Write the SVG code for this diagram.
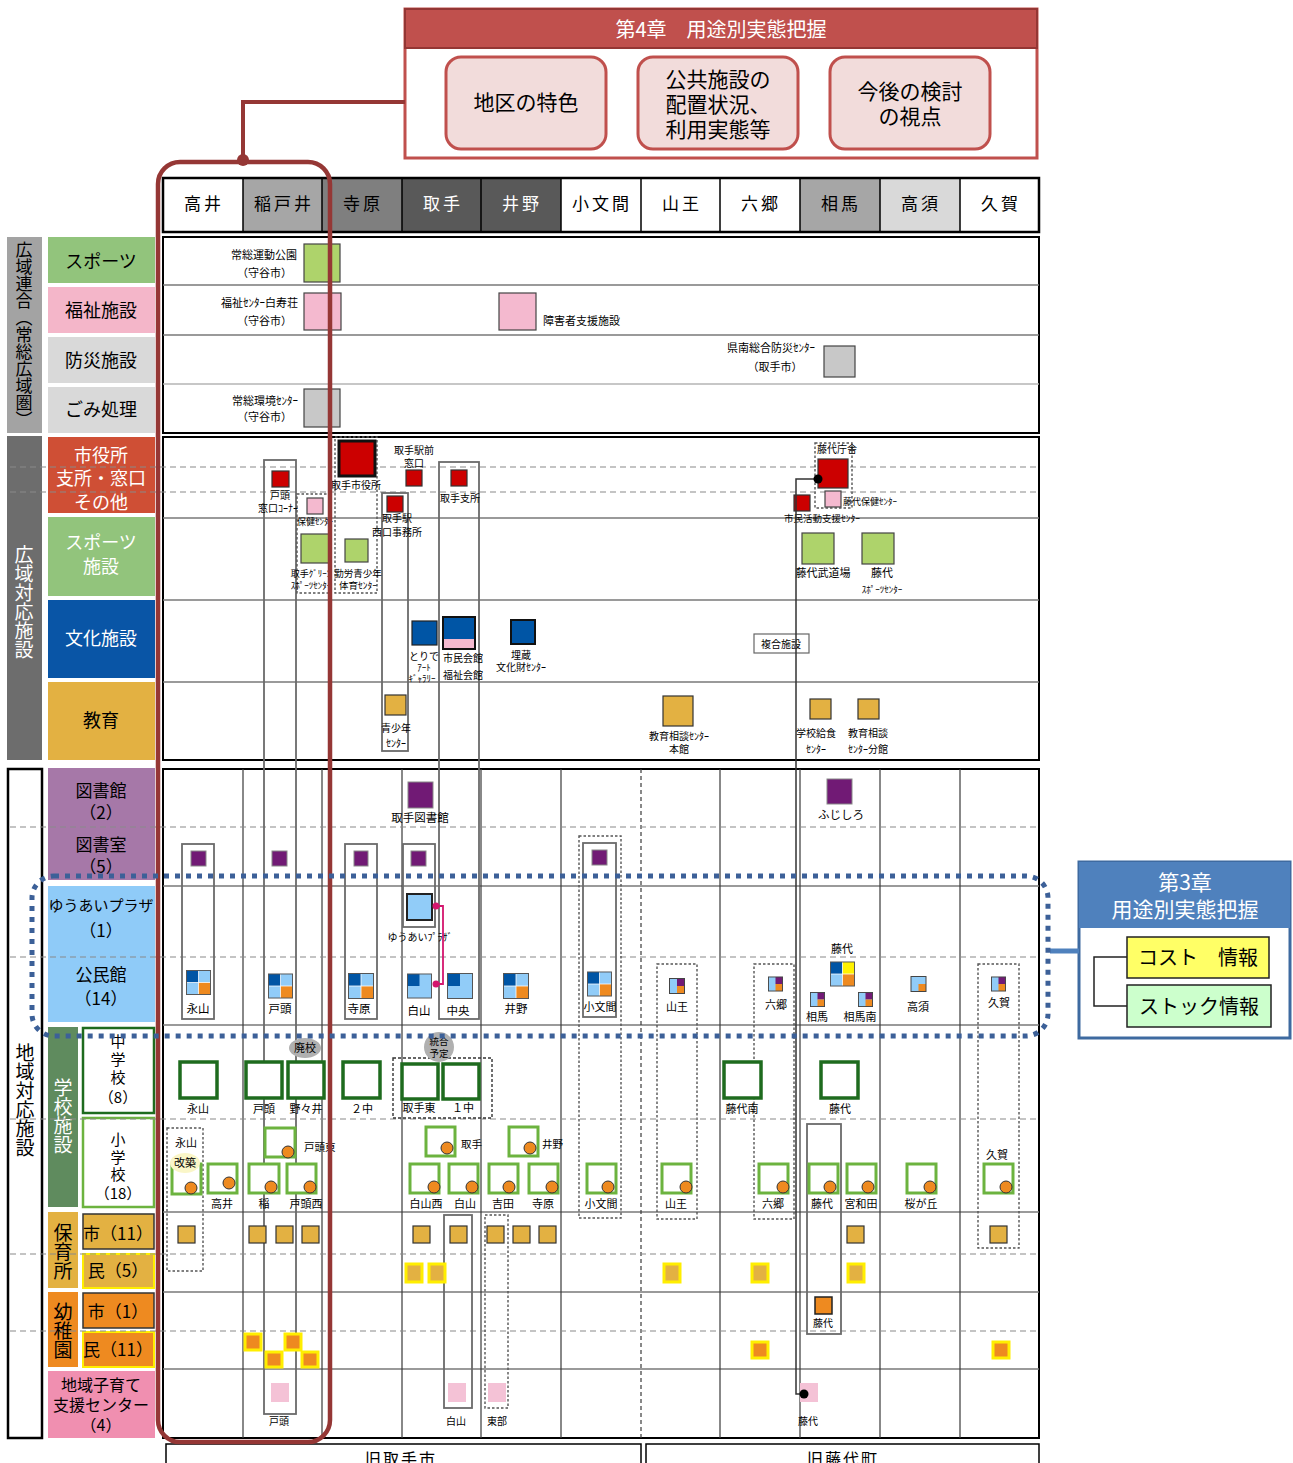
<svg xmlns="http://www.w3.org/2000/svg" width="1293" height="1463" viewBox="0 0 1293 1463">
<style>
text{font-family:"Noto Sans CJK JP","Noto Sans",sans-serif;fill:#000}
.t{font-size:10px;text-anchor:middle}
.tl{font-size:10.5px}
.tr{font-size:11px;text-anchor:end}
.p{font-size:11.5px;text-anchor:middle}
.ps{font-size:11px;text-anchor:middle}
.k{font-size:9px;text-anchor:middle}
.cat{font-size:18px;text-anchor:middle}
.w{fill:#fff}
.hd{font-size:17px;text-anchor:middle;letter-spacing:3px}
.vt{writing-mode:vertical-rl;text-anchor:middle}
.sec{fill:#fff;stroke:#000;stroke-width:2}
.row{stroke:#7a7a7a;stroke-width:1.5}
.dash{stroke:#8a8a8a;stroke-width:1.2;stroke-dasharray:6 4}
.col{stroke:#3a3a3a;stroke-width:1.2}
.cold{stroke:#3a3a3a;stroke-width:1.2;stroke-dasharray:4 3}
.frame{fill:none;stroke:#6a6a6a;stroke-width:1.8}
.dot{fill:none;stroke:#555;stroke-width:1.4;stroke-dasharray:2.5 2}
.red{fill:#cc0000;stroke:#333;stroke-width:1.2}
.grn{fill:#aed36b;stroke:#444;stroke-width:1.2}
.pnk{fill:#f4b9cf;stroke:#444;stroke-width:1.2}
.gry{fill:#c8c8c8;stroke:#444;stroke-width:1.2}
.blu{fill:#0055a5;stroke:#222;stroke-width:1.2}
.gld{fill:#e3b142;stroke:#333;stroke-width:1.2}
.pur{fill:#711a75;stroke:#888;stroke-width:1}
.lbl{fill:#91ccf8;stroke:#222;stroke-width:2}
.jhs{fill:#fff;stroke:#1e6b1e;stroke-width:3.5}
.es{fill:#fff;stroke:#6cb33f;stroke-width:3}
.od{fill:#ee8a20;stroke:#333;stroke-width:1}
.hoy{fill:#e3b142;stroke:#333;stroke-width:1.2}
.hom{fill:#e3b142;stroke:#ffee00;stroke-width:3}
.ykm{fill:#ee8a20;stroke:#ffee00;stroke-width:3}
.kos{fill:#f4c2d6}
</style>
<defs>
<symbol id="ic4" viewBox="0 0 26 26">
<rect x="0.5" y="0.5" width="25" height="25" fill="#91ccf8"/>
<rect x="0.5" y="0.5" width="12.5" height="12.5" fill="#0055a5"/>
<rect x="13" y="13" width="12.5" height="12.5" fill="#ee8a20"/>
<path d="M13 0.5V25.5M0.5 13H25.5" stroke="#fff" stroke-width="0.8"/>
<rect x="0.5" y="0.5" width="25" height="25" fill="none" stroke="#555" stroke-width="1"/>
</symbol>
<symbol id="icf" viewBox="0 0 26 26">
<rect x="0.5" y="0.5" width="25" height="25" fill="#91ccf8"/>
<rect x="0.5" y="0.5" width="12.5" height="12.5" fill="#0055a5"/>
<rect x="13" y="0.5" width="12.5" height="12.5" fill="#fff200"/>
<rect x="13" y="13" width="12.5" height="12.5" fill="#ee8a20"/>
<path d="M13 0.5V25.5M0.5 13H25.5" stroke="#fff" stroke-width="0.8"/>
<rect x="0.5" y="0.5" width="25" height="25" fill="none" stroke="#555" stroke-width="1"/>
</symbol>
<symbol id="ic2" viewBox="0 0 26 26">
<rect x="0.5" y="0.5" width="25" height="25" fill="#91ccf8"/>
<rect x="0.5" y="0.5" width="12.5" height="12.5" fill="#0055a5"/>
<rect x="0.5" y="0.5" width="25" height="25" fill="none" stroke="#555" stroke-width="1"/>
</symbol>
<symbol id="ic3" viewBox="0 0 16 16">
<rect x="0.5" y="0.5" width="15" height="15" fill="#91ccf8"/>
<rect x="8" y="0.5" width="7.5" height="7.5" fill="#711a75"/>
<rect x="8" y="8" width="7.5" height="7.5" fill="#ee8a20"/>
<rect x="0.5" y="0.5" width="15" height="15" fill="none" stroke="#444" stroke-width="1"/>
</symbol>
<symbol id="ich" viewBox="0 0 16 16">
<rect x="0.5" y="0.5" width="15" height="15" fill="#91ccf8"/>
<rect x="8" y="8" width="7.5" height="7.5" fill="#ee8a20"/>
<rect x="0.5" y="0.5" width="15" height="15" fill="none" stroke="#444" stroke-width="1"/>
</symbol>
</defs>

<rect width="1293" height="1463" fill="#fff"/>

<!-- chapter 4 panel -->
<g id="chapter4">
<rect x="405" y="9" width="632" height="149" fill="#fff" stroke="#c0504d" stroke-width="3"/>
<rect x="405" y="9" width="632" height="39" fill="#c0504d" stroke="#943634" stroke-width="2"/>
<text x="721" y="37" style="font-size:20px;text-anchor:middle" class="w">第4章　用途別実態把握</text>
</g>
<g id="n-district">
<rect x="446" y="57" width="160" height="92" rx="15" fill="#f2dcdb" stroke="#c0504d" stroke-width="3"/>
<text x="526" y="110" style="font-size:21px;text-anchor:middle">地区の特色</text>
</g>
<g id="n-layout">
<rect x="638" y="57" width="160" height="92" rx="15" fill="#f2dcdb" stroke="#c0504d" stroke-width="3"/>
<text x="718" y="87" style="font-size:21px;text-anchor:middle">公共施設の</text>
<text x="718" y="112" style="font-size:21px;text-anchor:middle">配置状況、</text>
<text x="718" y="137" style="font-size:21px;text-anchor:middle">利用実態等</text>
</g>
<g id="n-viewpoint">
<rect x="830" y="57" width="160" height="92" rx="15" fill="#f2dcdb" stroke="#c0504d" stroke-width="3"/>
<text x="910" y="99" style="font-size:21px;text-anchor:middle">今後の検討</text>
<text x="910" y="124" style="font-size:21px;text-anchor:middle">の視点</text>
</g>

<!-- district header row -->
<g id="header-row">
<rect x="163" y="178" width="80" height="54" fill="#fff"/>
<rect x="243" y="178" width="79" height="54" fill="#a6a6a6"/>
<rect x="322" y="178" width="80" height="54" fill="#7f7f7f"/>
<rect x="402" y="178" width="79" height="54" fill="#595959"/>
<rect x="481" y="178" width="80" height="54" fill="#595959"/>
<rect x="800" y="178" width="80" height="54" fill="#a6a6a6"/>
<rect x="880" y="178" width="80" height="54" fill="#d9d9d9"/>
<path d="M243 178V232M322 178V232M402 178V232M481 178V232M561 178V232M641 178V232M720 178V232M800 178V232M880 178V232M960 178V232" stroke="#000" stroke-width="1.5"/>
<rect x="163" y="178" width="876" height="54" fill="none" stroke="#000" stroke-width="2.5"/>
<text class="hd" x="204" y="210">高井</text>
<text class="hd" x="284" y="210">稲戸井</text>
<text class="hd" x="363" y="210">寺原</text>
<text class="hd w" x="443" y="210">取手</text>
<text class="hd w" x="522" y="210">井野</text>
<text class="hd" x="602" y="210">小文間</text>
<text class="hd" x="682" y="210">山王</text>
<text class="hd" x="761" y="210">六郷</text>
<text class="hd" x="841" y="210">相馬</text>
<text class="hd" x="921" y="210">高須</text>
<text class="hd" x="1001" y="210">久賀</text>
</g>

<!-- grid sections -->
<g id="grid">
<rect class="sec" x="163" y="237" width="876" height="196"/>
<path class="row" d="M163 285H1039M163 335H1039"/>
<path d="M163 384H1039" stroke="#b5b5b5" stroke-width="1.5"/>
<rect class="sec" x="163" y="437" width="876" height="323"/>
<path class="row" d="M163 518H1039M163 600H1039M163 682H1039"/>
<rect class="sec" x="163" y="769" width="876" height="669"/>
<path class="row" d="M163 886H1039M163 1025H1039M163 1212H1039M163 1292H1039M163 1369H1039"/>
<path class="col" d="M243 769V1438M322 769V1438M402 769V1438M481 769V1438M561 769V1438M720 769V1438M800 769V1438M880 769V1438M960 769V1438"/>
<path class="cold" d="M641 769V1438"/>
<rect x="166" y="1444" width="475" height="30" fill="#fff" stroke="#000" stroke-width="1.5"/>
<rect x="646" y="1444" width="393" height="30" fill="#fff" stroke="#000" stroke-width="1.5"/>
<text x="401" y="1465" style="font-size:16px;text-anchor:middle;letter-spacing:2px">旧取手市</text>
<text x="843" y="1465" style="font-size:16px;text-anchor:middle;letter-spacing:2px">旧藤代町</text>
</g>

<!-- category labels -->
<g id="categories">
<rect x="7" y="237" width="35" height="196" fill="#a3a3a3"/>
<text class="vt" x="24" y="335" style="font-size:17px">広域連合（常総広域圏）</text>
<rect x="7" y="436" width="35" height="324" fill="#6d6d6d"/>
<text class="vt w" x="24" y="602" style="font-size:19px">広域対応施設</text>
<rect x="8" y="769" width="34" height="669" fill="#fff" stroke="#000" stroke-width="2.5"/>
<text class="vt" x="25" y="1100" style="font-size:19px">地域対応施設</text>

<rect x="48" y="237" width="107" height="46" fill="#92c47c"/>
<text class="cat" x="101" y="268">スポーツ</text>
<rect x="48" y="287" width="107" height="46" fill="#f4b6c9"/>
<text class="cat" x="101" y="317">福祉施設</text>
<rect x="48" y="337" width="107" height="46" fill="#d9d9d9"/>
<text class="cat" x="101" y="367">防災施設</text>
<rect x="48" y="387" width="107" height="46" fill="#d9d9d9"/>
<text class="cat" x="101" y="416">ごみ処理</text>
<rect x="48" y="437" width="107" height="76" fill="#cf4f35"/>
<text class="cat w" x="101" y="462">市役所</text>
<text class="cat w" x="101" y="485">支所・窓口</text>
<text class="cat w" x="101" y="509">その他</text>
<rect x="48" y="517" width="107" height="79" fill="#92c47c"/>
<text class="cat w" x="101" y="549">スポーツ</text>
<text class="cat w" x="101" y="573">施設</text>
<rect x="48" y="600" width="107" height="78" fill="#0955a6"/>
<text class="cat w" x="101" y="645">文化施設</text>
<rect x="48" y="682" width="107" height="78" fill="#e3b142"/>
<text class="cat" x="101" y="727">教育</text>
<rect x="48" y="768" width="107" height="112" fill="#a678a8"/>
<text class="cat" x="101" y="797" style="font-size:17px">図書館</text>
<text class="cat" x="101" y="819" style="font-size:17px">（2）</text>
<text class="cat" x="101" y="851" style="font-size:17px">図書室</text>
<text class="cat" x="101" y="873" style="font-size:17px">（5）</text>
<rect x="48" y="886" width="107" height="136" fill="#8fcbf8"/>
<text class="cat" x="101" y="911" style="font-size:15px">ゆうあいプラザ</text>
<text class="cat" x="101" y="937" style="font-size:17px">（1）</text>
<text class="cat" x="101" y="981" style="font-size:17px">公民館</text>
<text class="cat" x="101" y="1005" style="font-size:17px">（14）</text>
<rect x="48" y="1027" width="30" height="180" fill="#5f8b5e"/>
<text class="vt w" x="63" y="1116" style="font-size:19px">学校施設</text>
<rect x="83" y="1028" width="71" height="85" fill="#fff" stroke="#1e6b1e" stroke-width="2.5"/>
<text x="118" y="1047" style="font-size:15px;text-anchor:middle">中</text>
<text x="118" y="1065" style="font-size:15px;text-anchor:middle">学</text>
<text x="118" y="1083" style="font-size:15px;text-anchor:middle">校</text>
<text x="118" y="1103" style="font-size:15px;text-anchor:middle">（8）</text>
<rect x="83" y="1118" width="71" height="89" fill="#fff" stroke="#6cb33f" stroke-width="2.5"/>
<text x="118" y="1145" style="font-size:15px;text-anchor:middle">小</text>
<text x="118" y="1163" style="font-size:15px;text-anchor:middle">学</text>
<text x="118" y="1180" style="font-size:15px;text-anchor:middle">校</text>
<text x="118" y="1199" style="font-size:15px;text-anchor:middle">（18）</text>
<rect x="48" y="1212" width="30" height="76" fill="#e3b142"/>
<text class="vt" x="63" y="1252" style="font-size:19px">保育所</text>
<rect x="83" y="1214" width="71" height="35" fill="#e3b142" stroke="#333" stroke-width="1.5"/>
<text x="118" y="1240" style="font-size:17px;text-anchor:middle">市（11）</text>
<rect x="83" y="1254" width="71" height="34" fill="#e3b142" stroke="#ffee00" stroke-width="2"/>
<text x="118" y="1277" style="font-size:17px;text-anchor:middle">民（5）</text>
<rect x="48" y="1292" width="30" height="75" fill="#ee8a20"/>
<text class="vt" x="63" y="1331" style="font-size:19px">幼稚園</text>
<rect x="83" y="1293" width="71" height="35" fill="#ee8a20" stroke="#333" stroke-width="1.5"/>
<text x="118" y="1318" style="font-size:17px;text-anchor:middle">市（1）</text>
<rect x="83" y="1332" width="71" height="35" fill="#ee8a20" stroke="#ffee00" stroke-width="2"/>
<text x="118" y="1356" style="font-size:17px;text-anchor:middle">民（11）</text>
<rect x="48" y="1371" width="107" height="67" fill="#f08fb0"/>
<text class="cat" x="101" y="1391" style="font-size:16px">地域子育て</text>
<text class="cat" x="101" y="1411" style="font-size:16px">支援センター</text>
<text class="cat" x="101" y="1431" style="font-size:16px">（4）</text>
</g>

<!-- dashed sub-row lines (run across the label column too) -->
<g id="subrows">
<path class="dash" d="M10 467H1039M10 492H1039M10 827H1039M10 957H1039M10 1119H1039M10 1254H1039M10 1331H1039"/>
</g>

<!-- tall frames linking facilities of one area -->
<g id="frames">
<rect class="frame" x="264" y="460" width="32" height="954"/>
<rect class="frame" x="439" y="462" width="40" height="557"/>
<rect class="frame" x="382" y="493" width="26" height="258"/>
<rect class="frame" x="182" y="844" width="32" height="175"/>
<rect class="frame" x="345" y="844" width="32" height="175"/>
<rect class="frame" x="403" y="844" width="32" height="83"/>
<rect class="frame" x="583" y="843" width="33" height="174"/>
<rect class="frame" x="444" y="1215" width="28" height="193"/>
<rect class="frame" x="807" y="1124" width="34" height="210"/>
<rect class="dot" x="297" y="494" width="34" height="99"/>
<rect class="dot" x="335" y="437" width="42" height="156"/>
<rect class="dot" x="815" y="443" width="37" height="65"/>
<rect class="dot" x="579" y="836" width="42" height="382"/>
<rect class="dot" x="657" y="964" width="40" height="255"/>
<rect class="dot" x="754" y="964" width="40" height="255"/>
<rect class="dot" x="978" y="964" width="41" height="284"/>
<rect class="dot" x="393" y="1058" width="99" height="60" style="stroke:#333;stroke-dasharray:3 2"/>
<rect class="dot" x="167" y="1128" width="36" height="143"/>
<rect class="dot" x="485" y="1215" width="23" height="193"/>
</g>

<!-- wide-area union facilities -->
<g id="n-joso-park"><rect class="grn" x="304" y="244" width="36" height="38"/><text class="tr" x="297" y="259">常総運動公園</text><text class="tr" x="292" y="277">（守谷市）</text></g>
<g id="n-hakujuso"><rect class="pnk" x="304" y="293" width="37" height="37"/><text class="tr" x="298" y="307">福祉ｾﾝﾀｰ白寿荘</text><text class="tr" x="292" y="325">（守谷市）</text></g>
<g id="n-disability"><rect class="pnk" x="499" y="293" width="37" height="37"/><text class="tl" x="543" y="325" style="font-size:11px">障害者支援施設</text></g>
<g id="n-kennan-bosai"><rect class="gry" x="824" y="346" width="31" height="31"/><text class="tr" x="815" y="352">県南総合防災ｾﾝﾀｰ</text><text class="ps" x="775" y="371">（取手市）</text></g>
<g id="n-joso-env"><rect class="gry" x="304" y="389" width="36" height="38"/><text class="tr" x="298" y="405">常総環境ｾﾝﾀｰ</text><text class="tr" x="292" y="421">（守谷市）</text></g>

<!-- wide-area city facilities -->
<g id="n-togashira-window"><rect class="red" x="272" y="471" width="17" height="16"/><text class="t" x="280" y="499">戸頭</text><text class="t" x="278" y="512">窓口ｺｰﾅｰ</text></g>
<g id="n-hoken"><rect class="pnk" x="307" y="498" width="16" height="16"/><text class="t" x="315" y="525" style="font-size:9px">保健ｾﾝﾀｰ</text></g>
<g id="n-green-sports"><rect class="grn" x="301" y="534" width="28" height="29"/><text class="t" x="311" y="577" style="font-size:9px">取手ｸﾞﾘｰﾝ</text><text class="t" x="311" y="589" style="font-size:9px">ｽﾎﾟｰﾂｾﾝﾀｰ</text></g>
<g id="n-city-hall"><rect x="339" y="441" width="36" height="35" fill="#cc0000" stroke="#111" stroke-width="3"/><text class="t" x="356" y="489">取手市役所</text></g>
<g id="n-kinro"><rect class="grn" x="345" y="539" width="23" height="23"/><text class="t" x="358" y="577" style="font-size:9.5px">勤労青少年</text><text class="t" x="358" y="589" style="font-size:9.5px">体育ｾﾝﾀｰ</text></g>
<g id="n-ekimae"><rect class="red" x="406" y="470" width="16" height="16"/><text class="t" x="414" y="454">取手駅前</text><text class="t" x="414" y="467">窓口</text></g>
<g id="n-toride-branch"><rect class="red" x="451" y="470" width="16" height="16"/><text class="t" x="460" y="502">取手支所</text></g>
<g id="n-nishiguchi"><rect class="red" x="387" y="496" width="16" height="16"/><text class="t" x="397" y="522">取手駅</text><text class="t" x="397" y="536">西口事務所</text></g>
<g id="n-art-gallery"><rect class="blu" x="412" y="621" width="25" height="24"/><text class="t" x="424" y="660">とりで</text><text class="k" x="424" y="671">ｱｰﾄ</text><text class="k" x="422" y="682">ｷﾞｬﾗﾘｰ</text></g>
<g id="n-civic-hall"><rect x="443" y="617" width="32" height="22" fill="#0055a5"/><rect x="443" y="639" width="32" height="10" fill="#f4b9cf"/><rect x="443" y="617" width="32" height="32" fill="none" stroke="#111" stroke-width="2"/><text class="t" x="463" y="662">市民会館</text><text class="t" x="463" y="679">福祉会館</text></g>
<g id="n-maizo"><rect x="511" y="620" width="24" height="24" fill="#0055a5" stroke="#111" stroke-width="2"/><text class="t" x="521" y="659">埋蔵</text><text class="t" x="521" y="671">文化財ｾﾝﾀｰ</text></g>
<g id="n-youth-center"><rect class="gld" x="385" y="695" width="21" height="20"/><text class="t" x="396" y="732">青少年</text><text class="t" x="396" y="747">ｾﾝﾀｰ</text></g>
<g id="n-fujishiro-office"><rect class="red" x="818" y="459" width="30" height="29"/><text class="t" x="837" y="453">藤代庁舎</text></g>
<g id="n-fujishiro-hoken"><rect class="pnk" x="825" y="491" width="16" height="16"/><text class="tl" x="843" y="505" style="font-size:9px">藤代保健ｾﾝﾀｰ</text></g>
<g id="n-shimin-katsudo"><rect class="red" x="794" y="495" width="16" height="16"/><text class="t" x="822" y="522" style="font-size:9.5px">市民活動支援ｾﾝﾀｰ</text></g>
<g id="n-budojo"><rect class="grn" x="802" y="533" width="32" height="31"/><text class="t" x="823" y="577" style="font-size:11px">藤代武道場</text></g>
<g id="n-fujishiro-sports"><rect class="grn" x="862" y="533" width="32" height="31"/><text class="t" x="882" y="577" style="font-size:11px">藤代</text><text class="k" x="882" y="593">ｽﾎﾟｰﾂｾﾝﾀｰ</text></g>
<g id="n-fukugo"><rect x="754" y="634" width="55" height="19" fill="#fff" stroke="#666" stroke-width="1.2"/><text class="t" x="781" y="648">複合施設</text></g>
<g id="n-kyoiku-honkan"><rect class="gld" x="663" y="696" width="30" height="30"/><text class="t" x="679" y="740">教育相談ｾﾝﾀｰ</text><text class="t" x="679" y="753">本館</text></g>
<g id="n-kyushoku"><rect class="gld" x="810" y="699" width="21" height="20"/><text class="t" x="816" y="737">学校給食</text><text class="t" x="816" y="753">ｾﾝﾀｰ</text></g>
<g id="n-kyoiku-bunkan"><rect class="gld" x="858" y="699" width="21" height="20"/><text class="t" x="868" y="737">教育相談</text><text class="t" x="868" y="753">ｾﾝﾀｰ分館</text></g>

<!-- libraries and library rooms -->
<g id="n-toride-lib"><rect class="pur" x="408" y="782" width="25" height="26"/><text class="p" x="420" y="822">取手図書館</text></g>
<g id="n-fujishiro-lib"><rect class="pur" x="827" y="779" width="25" height="25"/><text class="p" x="841" y="819">ふじしろ</text></g>
<g id="n-rooms">
<rect class="pur" x="191" y="851" width="15" height="15"/>
<rect class="pur" x="272" y="851" width="15" height="15"/>
<rect class="pur" x="354" y="851" width="14" height="15"/>
<rect class="pur" x="411" y="851" width="15" height="15"/>
<rect class="pur" x="592" y="850" width="15" height="15"/>
</g>

<!-- community halls -->
<g id="n-yuai"><rect class="lbl" x="407" y="894" width="25" height="26"/><text class="t" x="420" y="941">ゆうあいﾌﾟﾗｻﾞ</text></g>
<g id="n-halls">
<use href="#ic4" x="186" y="970" width="25" height="25"/><text class="p" x="198" y="1013">永山</text>
<use href="#ic4" x="268" y="973" width="25" height="26"/><text class="p" x="280" y="1013">戸頭</text>
<use href="#ic4" x="348" y="973" width="26" height="26"/><text class="p" x="359" y="1013">寺原</text>
<use href="#ic2" x="407" y="973" width="25" height="26"/><text class="p" x="419" y="1015">白山</text>
<use href="#ic2" x="447" y="973" width="26" height="26"/><text class="p" x="458" y="1015">中央</text>
<use href="#ic4" x="503" y="973" width="26" height="26"/><text class="p" x="516" y="1013">井野</text>
<use href="#ic4" x="587" y="971" width="25" height="26"/><text class="ps" x="600" y="1011">小文間</text>
<use href="#ic3" x="669" y="978" width="16" height="16"/><text class="ps" x="677" y="1011">山王</text>
<use href="#ic3" x="768" y="976" width="15" height="16"/><text class="ps" x="776" y="1009">六郷</text>
<use href="#icf" x="830" y="961" width="25" height="26"/><text class="ps" x="842" y="953">藤代</text>
<use href="#ic3" x="810" y="992" width="15" height="15"/><text class="ps" x="817" y="1021">相馬</text>
<use href="#ic3" x="858" y="992" width="15" height="15"/><text class="ps" x="860" y="1021">相馬南</text>
<use href="#ich" x="910" y="976" width="17" height="16"/><text class="ps" x="918" y="1011">高須</text>
<use href="#ic3" x="991" y="976" width="15" height="16"/><text class="ps" x="999" y="1007">久賀</text>
</g>

<!-- junior high schools -->
<g id="n-jhs">
<ellipse cx="305" cy="1048" rx="16" ry="10" fill="#b0b0b0"/><text class="ps" x="305" y="1052">廃校</text>
<circle cx="439" cy="1047" r="15" fill="#b0b0b0"/><text class="t" x="439" y="1045" style="font-size:9.5px">統合</text><text class="t" x="439" y="1057" style="font-size:9.5px">予定</text>
<rect class="jhs" x="180" y="1062" width="37" height="36"/><text class="ps" x="198" y="1113">永山</text>
<rect class="jhs" x="246" y="1062" width="36" height="36"/><text class="ps" x="264" y="1113">戸頭</text>
<rect class="jhs" x="288" y="1062" width="36" height="36"/><text class="ps" x="306" y="1113">野々井</text>
<rect class="jhs" x="343" y="1062" width="37" height="36"/><text class="ps" x="362" y="1113">２中</text>
<rect class="jhs" x="402" y="1064" width="36" height="35"/><text class="ps" x="419" y="1112">取手東</text>
<rect class="jhs" x="443" y="1064" width="36" height="35"/><text class="ps" x="463" y="1112">１中</text>
<rect class="jhs" x="724" y="1062" width="37" height="36"/><text class="ps" x="742" y="1113">藤代南</text>
<rect class="jhs" x="821" y="1062" width="37" height="36"/><text class="ps" x="840" y="1113">藤代</text>
</g>

<!-- elementary schools -->
<g id="n-es">
<text class="ps" x="186" y="1147">永山</text>
<rect class="es" x="172" y="1164" width="29" height="30"/><circle class="od" cx="191" cy="1188" r="6"/>
<ellipse cx="185" cy="1163" rx="15" ry="10" fill="#faf6c8"/><text class="ps" x="185" y="1167">改築</text>
<rect class="es" x="208" y="1164" width="29" height="29"/><circle class="od" cx="229" cy="1183" r="6"/><text class="ps" x="222" y="1208">高井</text>
<rect class="es" x="265" y="1128" width="30" height="29"/><circle class="od" cx="288" cy="1152" r="6"/><text class="tl" x="304" y="1151">戸頭東</text>
<rect class="es" x="249" y="1164" width="30" height="29"/><circle class="od" cx="271" cy="1187" r="6"/><text class="ps" x="264" y="1208">稲</text>
<rect class="es" x="287" y="1164" width="29" height="29"/><circle class="od" cx="310" cy="1187" r="6"/><text class="ps" x="306" y="1208">戸頭西</text>
<rect class="es" x="426" y="1127" width="29" height="29"/><circle class="od" cx="447" cy="1148" r="6"/><text class="tl" x="461" y="1148">取手</text>
<rect class="es" x="509" y="1127" width="29" height="29"/><circle class="od" cx="530" cy="1148" r="6"/><text class="tl" x="542" y="1148">井野</text>
<rect class="es" x="410" y="1164" width="29" height="29"/><circle class="od" cx="434" cy="1187" r="6"/><text class="ps" x="426" y="1208">白山西</text>
<rect class="es" x="449" y="1164" width="29" height="29"/><circle class="od" cx="472" cy="1187" r="6"/><text class="ps" x="465" y="1208">白山</text>
<rect class="es" x="489" y="1164" width="29" height="29"/><circle class="od" cx="509" cy="1187" r="6"/><text class="ps" x="503" y="1208">吉田</text>
<rect class="es" x="529" y="1164" width="29" height="29"/><circle class="od" cx="552" cy="1187" r="6"/><text class="ps" x="543" y="1208">寺原</text>
<rect class="es" x="587" y="1164" width="29" height="29"/><circle class="od" cx="608" cy="1187" r="6"/><text class="ps" x="601" y="1208">小文間</text>
<rect class="es" x="662" y="1164" width="29" height="29"/><circle class="od" cx="686" cy="1187" r="6"/><text class="ps" x="676" y="1208">山王</text>
<rect class="es" x="759" y="1164" width="29" height="29"/><circle class="od" cx="783" cy="1187" r="6"/><text class="ps" x="773" y="1208">六郷</text>
<rect class="es" x="809" y="1164" width="29" height="29"/><circle class="od" cx="830" cy="1187" r="6"/><text class="ps" x="822" y="1208">藤代</text>
<rect class="es" x="847" y="1164" width="29" height="29"/><circle class="od" cx="868" cy="1187" r="6"/><text class="ps" x="861" y="1208">宮和田</text>
<rect class="es" x="907" y="1164" width="29" height="29"/><circle class="od" cx="930" cy="1187" r="6"/><text class="ps" x="921" y="1208">桜が丘</text>
<rect class="es" x="984" y="1164" width="29" height="29"/><circle class="od" cx="1006" cy="1187" r="6"/><text class="ps" x="997" y="1159">久賀</text>
</g>

<!-- nursery schools -->
<g id="n-nursery-city">
<rect class="hoy" x="178" y="1226" width="17" height="17"/>
<rect class="hoy" x="249" y="1226" width="17" height="17"/>
<rect class="hoy" x="276" y="1226" width="17" height="17"/>
<rect class="hoy" x="302" y="1226" width="17" height="17"/>
<rect class="hoy" x="413" y="1226" width="17" height="17"/>
<rect class="hoy" x="450" y="1226" width="17" height="17"/>
<rect class="hoy" x="487" y="1226" width="17" height="17"/>
<rect class="hoy" x="513" y="1226" width="17" height="17"/>
<rect class="hoy" x="539" y="1226" width="17" height="17"/>
<rect class="hoy" x="847" y="1226" width="17" height="17"/>
<rect class="hoy" x="990" y="1226" width="17" height="17"/>
</g>
<g id="n-nursery-private">
<rect class="hom" x="406" y="1264" width="16" height="18"/>
<rect class="hom" x="429" y="1264" width="16" height="18"/>
<rect class="hom" x="664" y="1264" width="16" height="18"/>
<rect class="hom" x="752" y="1264" width="16" height="18"/>
<rect class="hom" x="848" y="1264" width="16" height="18"/>
</g>

<!-- kindergartens -->
<g id="n-kinder-city"><rect x="815" y="1297" width="17" height="17" fill="#ee8a20" stroke="#222" stroke-width="1.5"/><text class="t" x="823" y="1327">藤代</text></g>
<g id="n-kinder-private">
<rect class="ykm" x="245" y="1334" width="16" height="16"/>
<rect class="ykm" x="266" y="1352" width="16" height="15"/>
<rect class="ykm" x="285" y="1334" width="16" height="16"/>
<rect class="ykm" x="302" y="1352" width="16" height="15"/>
<rect class="ykm" x="752" y="1342" width="16" height="16"/>
<rect class="ykm" x="993" y="1342" width="16" height="16"/>
</g>

<!-- child-rearing support centres -->
<g id="n-kosodate">
<rect class="kos" x="271" y="1383" width="18" height="19"/><text class="t" x="279" y="1425">戸頭</text>
<rect class="kos" x="448" y="1383" width="18" height="19"/><text class="t" x="456" y="1425">白山</text>
<rect class="kos" x="488" y="1383" width="18" height="19"/><text class="t" x="497" y="1425">東部</text>
<rect class="kos" x="800" y="1383" width="18" height="19"/><text class="t" x="808" y="1425">藤代</text>
</g>

<!-- chapter 3 panel -->
<g id="chapter3">
<rect x="1079" y="862" width="211" height="176" fill="#fff" stroke="#3e6aa0" stroke-width="3"/>
<rect x="1079" y="862" width="211" height="66" fill="#4f81bd"/>
<text x="1185" y="890" style="font-size:21px;text-anchor:middle" class="w">第3章</text>
<text x="1185" y="917" style="font-size:21px;text-anchor:middle" class="w">用途別実態把握</text>
</g>
<g id="n-cost"><rect x="1127" y="937" width="142" height="41" fill="#ffff66" stroke="#222" stroke-width="1.5"/><text x="1198" y="965" style="font-size:20px;text-anchor:middle">コスト　情報</text></g>
<g id="n-stock"><rect x="1127" y="985" width="144" height="42" fill="#ccffcc" stroke="#222" stroke-width="1.5"/><text x="1199" y="1014" style="font-size:20px;text-anchor:middle">ストック情報</text></g>

<!-- connectors -->
<g id="connectors">
<path d="M405 102H243V160" fill="none" stroke="#953735" stroke-width="4"/>
<circle cx="243" cy="160" r="6" fill="#953735"/>
<path d="M818 479H796V1394H804" fill="none" stroke="#333" stroke-width="1.5"/>
<circle cx="818" cy="479" r="4.5" fill="#000"/>
<circle cx="804" cy="1394" r="4.5" fill="#000"/>
<path d="M436 906H443V984H436" fill="none" stroke="#d4166e" stroke-width="1.8"/>
<circle cx="436" cy="906" r="3.5" fill="#d4166e"/>
<circle cx="436" cy="984" r="3.5" fill="#d4166e"/>
<path d="M1127 957H1094V1006H1127" fill="none" stroke="#222" stroke-width="1.5"/>
<path d="M1050 951H1079" stroke="#4f81bd" stroke-width="5"/>
</g>

<!-- highlight outlines -->
<g id="highlights">
<rect x="158" y="162" width="172" height="1280" rx="22" fill="none" stroke="#953735" stroke-width="4.5"/>
<rect x="32" y="876" width="1016" height="160" rx="22" fill="none" stroke="#3c6098" stroke-width="5" stroke-dasharray="5 6"/>
</g>
</svg>
